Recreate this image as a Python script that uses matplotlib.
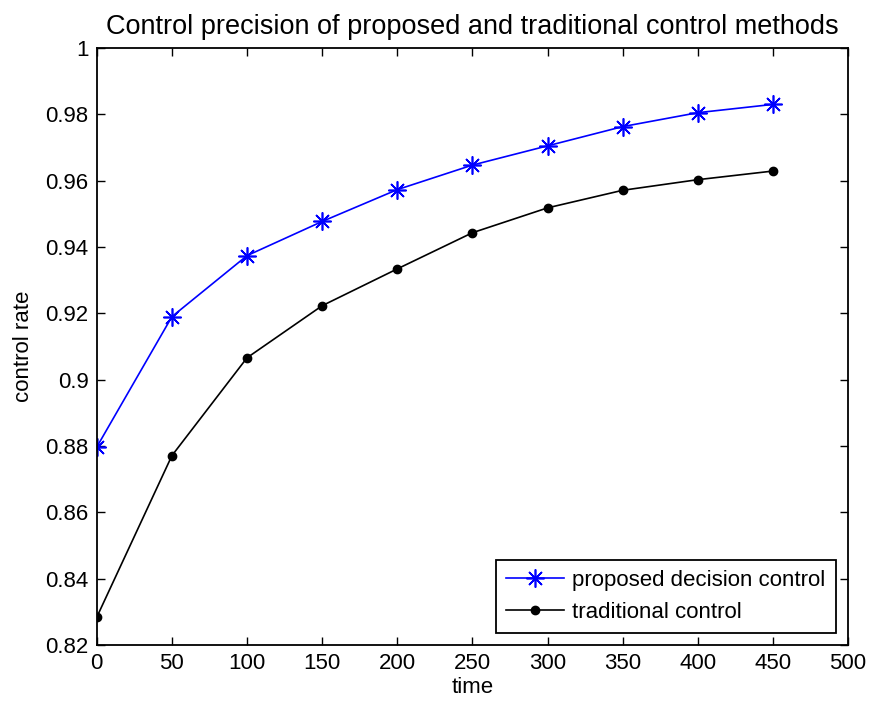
import matplotlib
matplotlib.use("Agg")
import matplotlib.pyplot as plt

plt.rcParams['font.family'] = ['Liberation Sans', 'DejaVu Sans']

time = [0, 50, 100, 150, 200, 250, 300, 350, 400, 450]
proposed = [0.8797, 0.9190, 0.9374, 0.9477, 0.9573, 0.9647, 0.9705, 0.9763, 0.9805, 0.9830]
traditional = [0.8284, 0.8771, 0.9066, 0.9223, 0.9334, 0.9443, 0.9518, 0.9571, 0.9603, 0.9629]
xticks = [0, 50, 100, 150, 200, 250, 300, 350, 400, 450, 500]
yticks = [0.82, 0.84, 0.86, 0.88, 0.9, 0.92, 0.94, 0.96, 0.98, 1.0]
ytick_labels = ['0.82', '0.84', '0.86', '0.88', '0.9', '0.92', '0.94', '0.96', '0.98', '1']

fig = plt.figure(figsize=(8.8, 7.02), dpi=100)
ax = fig.add_axes([0.110, 0.0812, 0.8536, 0.8504])

ax.plot(time, proposed, color='blue', marker=(8, 2, 0), markersize=13, linewidth=1.2,
        label='proposed decision control', markeredgewidth=1.2)
ax.plot(time, traditional, color='black', marker='o', markersize=6, linewidth=1.2,
        label='traditional control')

ax.set_xlim(0, 500)
ax.set_ylim(0.82, 1.0)
ax.set_xticks(xticks)
ax.set_xticklabels([str(v) for v in xticks])
ax.set_yticks(yticks)
ax.set_yticklabels(ytick_labels)
ax.tick_params(direction='in', top=True, right=True, length=6, width=1, labelsize=16, pad=6)
for s in ax.spines.values():
    s.set_linewidth(1.3)

ax.set_title('Control precision of proposed and traditional control methods', fontsize=19.5, pad=10)
ax.set_xlabel('time', fontsize=16, labelpad=2)
ax.set_ylabel('control rate', fontsize=16, labelpad=8)

leg = ax.legend(loc='lower right', fontsize=16, fancybox=False, framealpha=1,
                edgecolor='black', borderpad=0.45, handlelength=2.6, handletextpad=0.4,
                labelspacing=0.5, borderaxespad=0.55)
leg.get_frame().set_linewidth(1.3)

fig.savefig('out.png', dpi=100)
